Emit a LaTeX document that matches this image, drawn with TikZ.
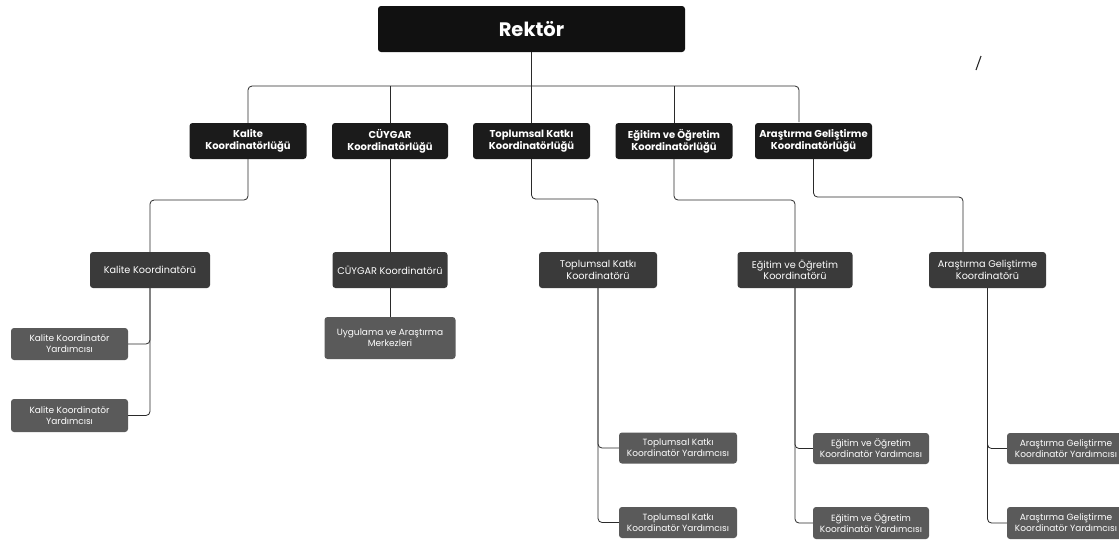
\documentclass[tikz,border=0pt]{standalone}
\usepackage{fontspec}
\setmainfont{Poppins}
\usetikzlibrary{calc}
\definecolor{cTop}{HTML}{111111}
\definecolor{cL1}{HTML}{1B1B1B}
\definecolor{cL2}{HTML}{3A3A3A}
\definecolor{cL3}{HTML}{5A5A5A}
\definecolor{cLine}{HTML}{2A2A2A}
\tikzset{
  box/.style={rectangle, rounded corners=3pt, text=white, align=center, inner sep=1pt},
  topbox/.style={box, fill=cTop, minimum width=307pt, minimum height=46pt, font=\fontsize{19.5}{22}\selectfont\bfseries},
  lone/.style={box, fill=cL1, minimum width=117pt, minimum height=36pt, font=\fontsize{10}{12}\selectfont\bfseries},
  ltwo/.style={box, fill=cL2, minimum width=117pt, minimum height=36pt, font=\fontsize{9.7}{11.5}\selectfont},
  lthree/.style={box, fill=cL3, minimum width=117pt, minimum height=32pt, font=\fontsize{9}{10.8}\selectfont},
  conn/.style={draw=cLine, line width=0.8pt, rounded corners=4pt},
}
\begin{document}
\begin{tikzpicture}[x=1pt,y=-1pt]
\useasboundingbox (0,0) rectangle (1119,542);
\clip (0,0) rectangle (1119,542);
\fill[white] (0,0) rectangle (1119,542);

% top
\node[topbox] (R) at (531.5,29) {Rektör};

% level 1
\node[lone] (k1) at (248,141) {Kalite\\Koordinatörlüğü};
\node[lone, minimum width=116pt] (c1) at (390,141) {CÜYGAR\\Koordinatörlüğü};
\node[lone] (t1) at (531.5,141) {Toplumsal Katkı\\Koordinatörlüğü};
\node[lone] (e1) at (674,141) {Eğitim ve Öğretim\\Koordinatörlüğü};
\node[lone] (a1) at (813.5,141) {Araştırma Geliştirme\\Koordinatörlüğü};

% level 2
\node[ltwo, minimum width=120pt] (k2) at (150,270) {Kalite Koordinatörü};
\node[ltwo, minimum width=115pt] (c2) at (390,270) {CÜYGAR Koordinatörü};
\node[ltwo, minimum width=118pt] (t2) at (598,270) {Toplumsal Katkı\\Koordinatörü};
\node[ltwo, minimum width=115pt] (e2) at (795,270) {Eğitim ve Öğretim\\Koordinatörü};
\node[ltwo] (a2) at (987.5,270) {Araştırma Geliştirme\\Koordinatörü};

% level 3
\node[lthree] (k3a) at (69.5,344) {Kalite Koordinatör\\Yardımcısı};
\node[lthree, minimum height=33pt] (k3b) at (69.5,415.5) {Kalite Koordinatör\\Yardımcısı};
\node[lthree, minimum width=131pt, minimum height=42pt] (c3) at (390,338) {Uygulama ve Araştırma\\Merkezleri};
\node[lthree, minimum width=118pt, minimum height=31pt] (t3a) at (678,448) {Toplumsal Katkı\\Koordinatör Yardımcısı};
\node[lthree, minimum width=118pt, minimum height=31pt] (t3b) at (678,522.5) {Toplumsal Katkı\\Koordinatör Yardımcısı};
\node[lthree, minimum width=116pt, minimum height=31pt] (e3a) at (871,448.5) {Eğitim ve Öğretim\\Koordinatör Yardımcısı};
\node[lthree, minimum width=116pt, minimum height=32pt] (e3b) at (871,523) {Eğitim ve Öğretim\\Koordinatör Yardımcısı};
\node[lthree, minimum width=118pt, minimum height=31pt] (a3a) at (1066,448.5) {Araştırma Geliştirme\\Koordinatör Yardımcısı};
\node[lthree, minimum width=118pt, minimum height=32pt] (a3b) at (1066,523) {Araştırma Geliştirme\\Koordinatör Yardımcısı};

% bus coordinates
\coordinate (bus) at (531.5,86);
\coordinate (aIn) at (799,122);
\coordinate (kMid) at (248,200);
\coordinate (tMid) at (531.5,199);
\coordinate (eMid) at (674,200);
\coordinate (aMid) at (813.5,197);
\coordinate (a2In) at (963,252);

% connectors top -> level 1
\draw[conn] (R.south) -- (t1.north);
\draw[conn] (k1.north) |- (bus) -| (aIn);
\draw[conn] (c1.north) -- (c1.north |- bus);
\draw[conn] (e1.north) -- (e1.north |- bus);

% level 1 -> level 2
\draw[conn] (k1.south) -- (kMid) -| (k2.north);
\draw[conn] (c1.south) -- (c2.north);
\draw[conn] (t1.south) -- (tMid) -| (t2.north);
\draw[conn] (e1.south) -- (eMid) -| (e2.north);
\draw[conn] (a1.south) -- (aMid) -| (a2In);

% level 2 -> level 3
\draw[conn] (k2.south) |- (k3a.east);
\draw[conn] (k2.south) |- (k3b.east);
\draw[conn] (c2.south) -- (c3.north);
\draw[conn] (t2.south) |- (t3a.west);
\draw[conn] (t2.south) |- (t3b.west);
\draw[conn] (e2.south) |- (e3a.west);
\draw[conn] (e2.south) |- (e3b.west);
\draw[conn] (a2.south) |- (a3a.west);
\draw[conn] (a2.south) |- (a3b.west);

% stray mark
\draw[draw=cLine, line width=1.1pt] (981,56) -- (976,70);
\end{tikzpicture}
\end{document}
